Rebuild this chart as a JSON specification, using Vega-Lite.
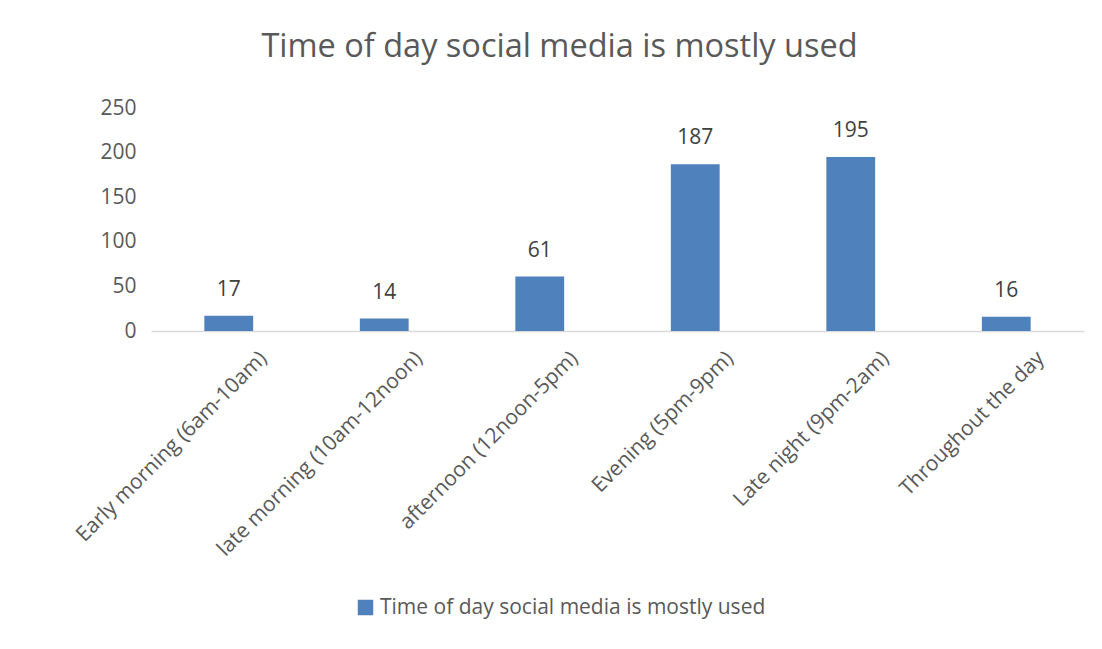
{
  "$schema": "https://vega.github.io/schema/vega-lite/v6.json",
  "autosize": {"type": "none"},
  "width": 933,
  "height": 223,
  "padding": {"left": 151, "top": 108, "right": 18, "bottom": 318},
  "background": "white",
  "title": {
    "text": "Time of day social media is mostly used",
    "font": "Open Sans",
    "fontSize": 32.5,
    "fontWeight": "normal",
    "color": "#595959",
    "anchor": "middle",
    "dx": -58,
    "offset": 34
  },
  "data": {
    "values": [
      {"time": "Early morning (6am-10am)", "count": 17, "series": "Time of day social media is mostly used"},
      {"time": "late morning (10am-12noon)", "count": 14, "series": "Time of day social media is mostly used"},
      {"time": "afternoon (12noon-5pm)", "count": 61, "series": "Time of day social media is mostly used"},
      {"time": "Evening (5pm-9pm)", "count": 187, "series": "Time of day social media is mostly used"},
      {"time": "Late night (9pm-2am)", "count": 195, "series": "Time of day social media is mostly used"},
      {"time": "Throughout the day", "count": 16, "series": "Time of day social media is mostly used"}
    ]
  },
  "encoding": {
    "x": {
      "field": "time",
      "type": "nominal",
      "sort": null,
      "scale": {"paddingInner": 0.686, "paddingOuter": 0.343},
      "axis": {
        "title": null,
        "labelAngle": -45,
        "labelFont": "Open Sans",
        "labelFontSize": 21,
        "labelColor": "#595959",
        "ticks": false,
        "domainColor": "#D9D9D9",
        "domainWidth": 1.5,
        "labelPadding": 16,
        "labelOffset": 27,
        "labelLimit": 400
      }
    },
    "y": {
      "field": "count",
      "type": "quantitative",
      "scale": {"domain": [0, 250]},
      "axis": {
        "title": null,
        "values": [0, 50, 100, 150, 200, 250],
        "grid": false,
        "domain": false,
        "ticks": false,
        "labelFont": "Open Sans",
        "labelFontSize": 21,
        "labelColor": "#595959",
        "labelPadding": 15
      }
    }
  },
  "layer": [
    {
      "mark": {"type": "bar"},
      "encoding": {
        "color": {
          "field": "series",
          "type": "nominal",
          "scale": {"range": ["#4F81BD"]},
          "legend": {
            "title": null,
            "orient": "none",
            "legendX": 204,
            "legendY": 489,
            "symbolType": "square",
            "symbolSize": 240,
            "symbolStrokeWidth": 0,
            "labelFont": "Open Sans",
            "labelFontSize": 21,
            "labelColor": "#595959",
            "labelLimit": 500
          }
        }
      }
    },
    {
      "mark": {"type": "text", "baseline": "alphabetic", "dy": -20, "font": "Open Sans", "fontSize": 21, "color": "#404040"},
      "encoding": {"text": {"field": "count", "type": "quantitative"}}
    }
  ],
  "config": {"view": {"stroke": null}}
}
